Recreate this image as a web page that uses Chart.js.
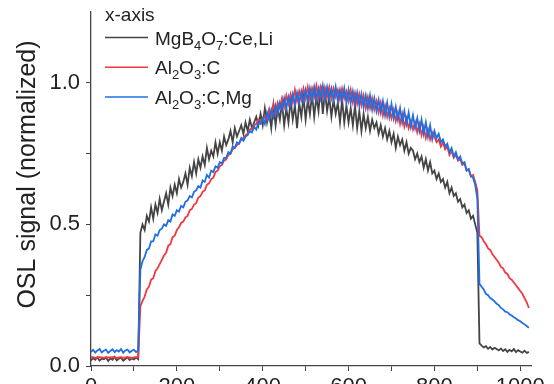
<!DOCTYPE html>
<html>
<head>
<meta charset="utf-8">
<script src="https://cdn.jsdelivr.net/npm/chart.js@4.4.0/dist/chart.umd.min.js"></script>
<style>
html,body{margin:0;padding:0;background:#fff;overflow:hidden;}
#wrap{width:554px;height:420px;}
</style>
</head>
<body>
<div id="wrap"><canvas id="oslChart" width="554" height="420"></canvas></div>
<script>
// OSL sinyal verisi (x ekseni: zaman)
const times = [0,5,10,15,20,25,30,35,40,45,50,55,60,65,70,75,80,85,90,95,
  100,105,110,115,120,125,130,135,140,145,150,155,160,165,170,175,180,185,190,195,
  200,205,210,215,220,225,230,235,240,245,250,255,260,265,270,275,280,285,290,295,
  300,305,310,315,320,325,330,335,340,345,350,355,360,365,370,375,380,385,390,395,
  400,405,410,415,420,425,430,435,440,445,450,455,460,465,470,475,480,485,490,495,
  500,505,510,515,520,525,530,535,540,545,550,555,560,565,570,575,580,585,590,595,
  600,605,610,615,620,625,630,635,640,645,650,655,660,665,670,675,680,685,690,695,
  700,705,710,715,720,725,730,735,740,745,750,755,760,765,770,775,780,785,790,795,
  800,805,810,815,820,825,830,835,840,845,850,855,860,865,870,875,880,885,890,895,
  900,905,910,915,920,925,930,935,940,945,950,955,960,965,970,975,980,985,990,995,
  1000,1005,1010,1015,1020];

const mgb4o7 = [.020,.028,.022,.031,.019,.026,.024,.030,.018,.027,
  .022,.032,.020,.026,.029,.019,.025,.031,.021,.027,
  .023,.030,.024,.47,.50,.48,.53,.51,.56,.52,
  .57,.54,.59,.55,.58,.61,.57,.63,.60,.64,
  .61,.66,.63,.65,.68,.64,.70,.67,.72,.68,
  .73,.70,.74,.71,.77,.73,.76,.74,.79,.75,
  .79,.76,.81,.78,.80,.83,.79,.84,.81,.83,
  .85,.82,.86,.83,.87,.84,.86,.88,.85,.89,
  .85,.91,.86,.90,.84,.92,.85,.91,.87,.93,
  .85,.91,.86,.94,.87,.92,.84,.93,.88,.95,
  .87,.94,.89,.96,.88,.95,.90,.99,.89,.97,
  .90,.95,.88,.94,.89,.93,.86,.94,.86,.92,
  .86,.91,.85,.92,.84,.90,.83,.89,.84,.88,
  .83,.87,.84,.86,.82,.85,.81,.84,.80,.83,
  .79,.82,.77,.81,.78,.80,.76,.79,.75,.77,
  .76,.73,.75,.72,.74,.70,.73,.69,.72,.68,
  .69,.66,.68,.65,.66,.63,.65,.61,.63,.60,
  .61,.58,.59,.56,.57,.54,.55,.52,.53,.50,
  .47,.08,.072,.066,.070,.061,.067,.058,.064,.060,
  .055,.062,.053,.059,.050,.057,.052,.060,.049,.056,
  .051,.047,.054,.046,.050];

const al2o3c = [.030,.031,.029,.030,.031,.030,.029,.031,.030,.030,
  .031,.030,.029,.030,.031,.029,.030,.031,.030,.029,
  .030,.031,.030,.21,.23,.245,.27,.28,.305,.31,
  .335,.345,.36,.375,.39,.40,.425,.43,.455,.46,
  .48,.49,.505,.51,.525,.53,.55,.555,.57,.575,
  .595,.60,.615,.62,.64,.645,.66,.665,.685,.69,
  .705,.71,.725,.73,.745,.75,.765,.77,.78,.785,
  .80,.805,.815,.82,.835,.84,.85,.855,.87,.865,
  .865,.885,.87,.905,.885,.925,.89,.93,.91,.945,
  .915,.955,.925,.96,.93,.975,.935,.97,.94,.98,
  .945,.985,.94,.98,.95,.99,.945,.985,.95,.98,
  .95,.985,.945,.98,.95,.975,.94,.98,.945,.97,
  .935,.975,.93,.965,.925,.96,.92,.955,.91,.95,
  .91,.945,.905,.935,.895,.93,.885,.92,.88,.91,
  .875,.905,.865,.895,.855,.89,.845,.875,.84,.865,
  .835,.86,.825,.855,.815,.845,.805,.835,.80,.825,
  .81,.79,.80,.775,.79,.765,.775,.745,.76,.735,
  .745,.725,.73,.71,.715,.69,.695,.67,.675,.65,
  .62,.46,.455,.44,.43,.415,.41,.395,.385,.375,
  .365,.35,.345,.33,.325,.31,.305,.295,.285,.275,
  .265,.255,.24,.225,.205];

const al2o3cmg = [.050,.057,.047,.055,.060,.048,.054,.058,.046,.053,
  .059,.049,.056,.051,.060,.047,.055,.058,.048,.054,
  .057,.049,.055,.34,.37,.385,.41,.415,.44,.44,
  .465,.46,.48,.485,.50,.495,.515,.51,.535,.53,
  .55,.545,.565,.56,.58,.585,.60,.595,.615,.62,
  .635,.63,.655,.65,.675,.665,.69,.685,.705,.70,
  .72,.715,.735,.735,.755,.75,.775,.77,.79,.785,
  .805,.795,.81,.815,.83,.825,.845,.835,.86,.855,
  .875,.855,.895,.87,.905,.88,.92,.89,.93,.905,
  .945,.91,.95,.92,.96,.925,.965,.93,.97,.935,
  .975,.935,.98,.94,.985,.94,.98,.945,.99,.94,
  .985,.945,.98,.94,.985,.935,.975,.94,.98,.93,
  .975,.93,.97,.925,.965,.92,.96,.915,.955,.91,
  .955,.905,.945,.90,.94,.895,.935,.885,.93,.88,
  .925,.875,.915,.87,.91,.86,.90,.855,.895,.845,
  .885,.84,.875,.83,.87,.82,.86,.81,.85,.80,
  .83,.805,.82,.79,.80,.775,.785,.755,.77,.74,
  .755,.73,.74,.715,.72,.69,.695,.67,.665,.64,
  .59,.29,.28,.27,.255,.25,.24,.235,.228,.22,
  .215,.205,.20,.192,.19,.183,.178,.172,.168,.162,
  .158,.152,.147,.141,.135];

const seriesLabels = ['MgB₄O₇:Ce,Li','Al₂O₃:C','Al₂O₃:C,Mg'];
const legendTitle = 'x-axis';
const yTitle = 'OSL signal (normalized)';
const xTicks = [0,100,200,300,400,500,600,700,800,900,1000];
const xTickLabels = [0,200,400,600,800,1000];
const yTicks = [0,0.25,0.5,0.75,1];
const yTickLabels = [0,0.5,1];

const FONT = '"Liberation Sans", Arial, sans-serif';
const subDigits = {'₀':'0','₁':'1','₂':'2','₃':'3','₄':'4','₅':'5','₆':'6','₇':'7','₈':'8','₉':'9'};

function toPoints(arr){ return arr.map((v,i)=>({x:times[i],y:v})); }

// lejant ve eksen basligi
const extras = {
  id:'extras',
  afterDraw(chart){
    const c = chart.ctx;
    c.save();
    c.fillStyle = '#222';
    c.textBaseline = 'alphabetic';
    c.textAlign = 'left';
    c.font = '19px ' + FONT;
    c.fillText(legendTitle, 105, 21);
    chart.data.datasets.forEach((ds,i)=>{
      let ly = 37.5 + i*29.8;
      c.strokeStyle = ds.borderColor;
      c.lineWidth = 1.5;
      c.beginPath(); c.moveTo(105,ly); c.lineTo(148,ly); c.stroke();
      let x = 155, base = 45 + i*29.3;
      for (const ch of ds.label){
        if (subDigits[ch]){
          c.font = '13px ' + FONT;
          c.fillText(subDigits[ch], x, base+5);
          x += c.measureText(subDigits[ch]).width;
        } else {
          c.font = '19px ' + FONT;
          c.fillText(ch, x, base);
          x += c.measureText(ch).width;
        }
      }
    });
    // y ekseni basligi
    c.translate(28, 174.5);
    c.rotate(-Math.PI/2);
    c.textAlign = 'center';
    c.textBaseline = 'middle';
    c.font = '25px ' + FONT;
    c.fillText(yTitle, 0, 0);
    c.restore();
  }
};

function noPad(s){ s.paddingTop = 0; s.paddingBottom = 0; s.paddingLeft = 0; s.paddingRight = 0; }

const colors = ['#444444','#f0393f','#1f6fe3'];
const ctx = document.getElementById('oslChart').getContext('2d');
const oslChart = new Chart(ctx,{
  type:'line',
  data:{
    datasets:[mgb4o7, al2o3c, al2o3cmg].map((d,i)=>({
      label: seriesLabels[i],
      data: toPoints(d),
      borderColor: colors[i],
      borderWidth: 1.8,
      pointRadius: 0,
      tension: 0,
      fill: false,
      order: 3-i
    }))
  },
  options:{
    responsive:false,
    animation:false,
    layout:{padding:{top:12,right:23,left:0,bottom:0}},
    plugins:{legend:{display:false},tooltip:{enabled:false}},
    scales:{
      x:{
        type:'linear', min:0, max:1025,
        afterFit(s){ s.height = 54; noPad(s); },
        afterBuildTicks(s){ s.ticks = xTicks.map(v=>({value:v})); },
        border:{display:true,color:'#444',width:1.3},
        grid:{drawOnChartArea:false,drawTicks:true,tickLength:5,tickColor:'#444'},
        ticks:{padding:3,color:'#222',font:{size:22,family:FONT},maxRotation:0,autoSkip:false,
          callback:v=>xTickLabels.includes(v)?String(v):''}
      },
      y:{
        min:0, max:1.25,
        afterFit(s){ s.width = 91; noPad(s); },
        afterBuildTicks(s){ s.ticks = yTicks.map(v=>({value:v})); },
        border:{display:true,color:'#444',width:1.3},
        grid:{drawOnChartArea:false,drawTicks:true,tickLength:5,tickColor:'#444'},
        ticks:{padding:6,color:'#222',font:{size:22,family:FONT},autoSkip:false,
          callback:v=>yTickLabels.includes(v)?v.toFixed(1):''}
      }
    }
  },
  plugins:[extras]
});
</script>
</body>
</html>
